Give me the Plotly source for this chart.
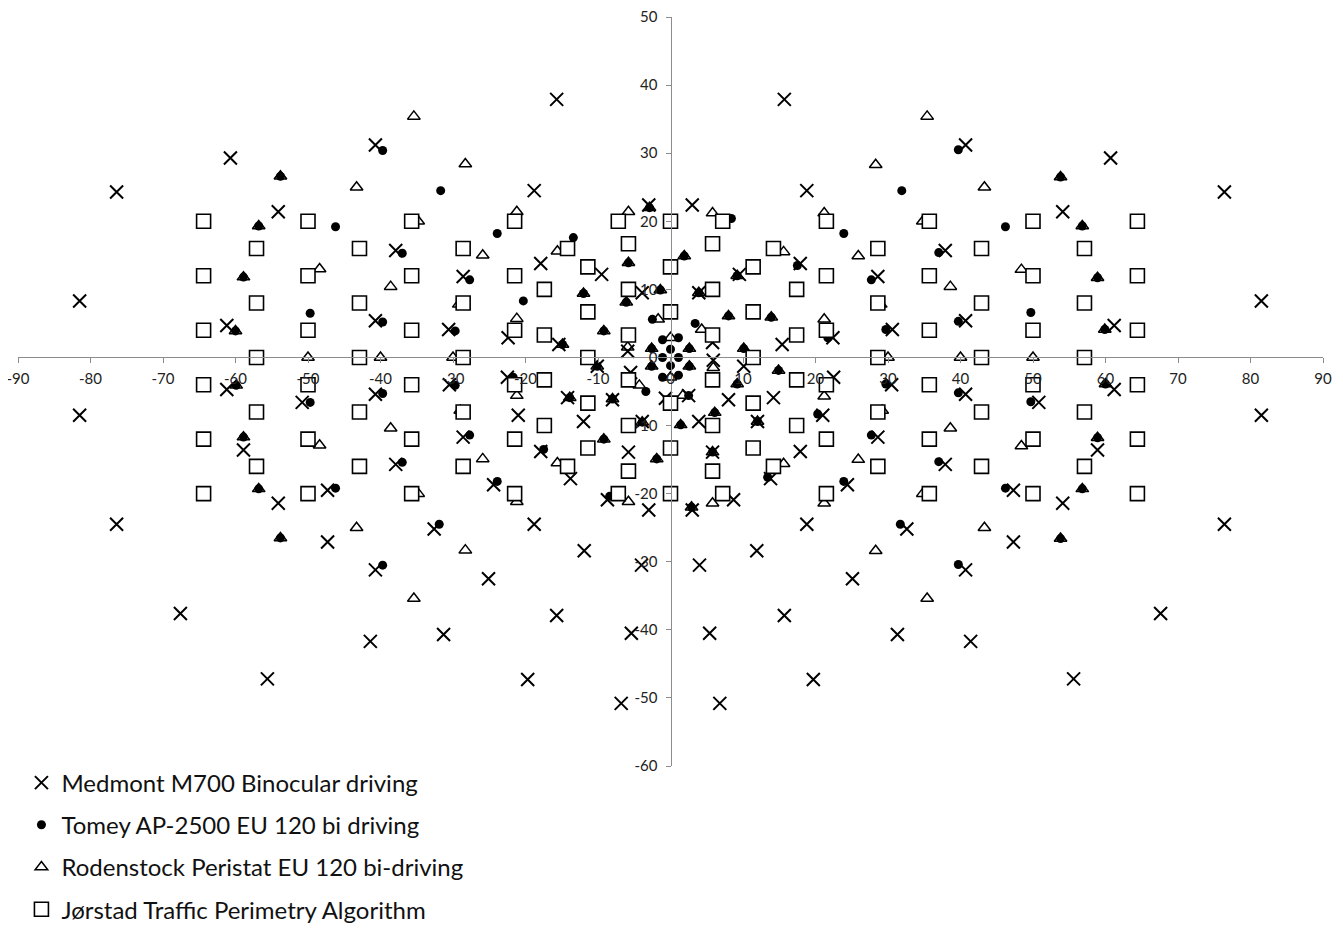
import plotly.graph_objects as go

# ---------------- Axis ticks ----------------
x_tick_vals = [-90, -80, -70, -60, -50, -40, -30, -20, -10, 0, 10, 20, 30, 40, 50, 60, 70, 80, 90]
x_tick_text = ["-90", "-80", "-70", "-60", "-50", "-40", "-30", "-20", "-10", "0", "10", "20", "30", "40", "50", "60", "70", "80", "90"]
y_tick_vals = [50, 40, 30, 20, 10, 0, -10, -20, -30, -40, -50, -60]
y_tick_text = ["50", "40", "30", "20", "10", "0", "-10", "-20", "-30", "-40", "-50", "-60"]

# ---------------- Medmont M700 Binocular driving ----------------
medmont_x_right = [15.7, 18.8, 3.0, 17.9, 9.5, 28.6, 3.9, 5.8, 15.4, 22.4, 5.9, 10.1, 8.0, 14.2, 3.9, 12.0, 22.5, 21.0, 17.9, 28.6,
                   13.8, 24.4, 8.7, 3.0, 18.8, 11.9, 4.0, 25.1, 15.7, 5.4, 19.7, 6.8, 40.7, 60.7, 76.4, 54.1, 37.9, 81.5, 61.2, 40.7,
                   30.6, 30.5, 40.7, 50.8, 37.9, 47.3, 54.1, 58.9, 32.6, 47.3, 40.7, 31.3, 41.4, 55.6, 61.2, 81.5, 76.4, 67.6, 5.8, 2.5]
medmont_y_right = [37.9, 24.5, 22.4, 13.8, 12.2, 11.9, 9.5, 2.2, 1.9, 2.9, -0.4, -1.3, -6.2, -5.9, -9.4, -9.4, -2.9, -8.5, -13.8, -11.7,
                   -17.8, -18.7, -20.9, -22.4, -24.5, -28.4, -30.5, -32.5, -37.9, -40.5, -47.3, -50.8, 31.2, 29.3, 24.3, 21.4, 15.7, 8.3, 4.7, 5.4,
                   4.1, -4.0, -5.4, -6.6, -15.7, -19.5, -21.4, -13.6, -25.2, -27.1, -31.2, -40.7, -41.7, -47.2, -4.7, -8.5, -24.5, -37.6, -13.9, -5.6]
medmont_x_left = [-15.7, -18.8, -3.0, -17.9, -9.5, -28.6, -3.9, -5.9, -15.4, -22.4, -5.5, -10.1, -8.0, -14.2, -3.9, -12.0, -22.5, -21.0, -17.9, -28.6,
                  -13.8, -24.4, -8.7, -3.0, -18.8, -11.9, -4.0, -25.1, -15.7, -5.4, -19.7, -6.8, -40.7, -60.7, -76.4, -54.1, -37.9, -81.5, -61.2, -40.7,
                  -30.6, -30.5, -40.7, -50.8, -37.9, -47.3, -54.1, -58.9, -32.6, -47.3, -40.7, -31.3, -41.4, -55.6, -61.2, -81.5, -76.4, -67.6, -5.8, -0.7]
medmont_y_left = [37.9, 24.5, 22.4, 13.8, 12.2, 11.9, 9.5, 0.9, 1.9, 2.9, -2.2, -1.3, -6.2, -5.9, -9.4, -9.4, -2.9, -8.5, -13.8, -11.7,
                  -17.8, -18.7, -20.9, -22.4, -24.5, -28.4, -30.5, -32.5, -37.9, -40.5, -47.3, -50.8, 31.2, 29.3, 24.3, 21.4, 15.7, 8.3, 4.7, 5.4,
                  4.1, -4.0, -5.4, -6.6, -15.7, -19.5, -21.4, -13.6, -25.2, -27.1, -31.2, -40.7, -41.7, -47.2, -4.7, -8.5, -24.5, -37.6, -13.9, -6.0]

# ---------------- Tomey AP-2500 EU 120 bi driving ----------------
tomey_x_right = [8.4, 1.9, 3.9, 9.2, 8.0, 13.9, 3.4, 17.5, 23.9, 27.7, 10.1, 2.6, 39.7, 31.9, 46.2, 53.8, 56.8, 37.0, 58.9, 39.7,
                 49.7, 29.7, 59.9, 1.1, 1.1, 21.7,
                 29.7, 39.7, 49.7, 60.0, 58.9, 37.0, 46.2, 56.8, 31.7, 53.8, 39.7, 2.9, 5.8, 12.0, 13.4, 23.9, 20.3, 27.7, 9.2, 6.1,
                 1.4, 14.9, 2.5, 2.6, 1.1]
tomey_y_right = [20.4, 14.9, 9.5, 12.0, 6.1, 5.9, 5.0, 13.5, 18.2, 11.4, 1.3, 1.3, 30.5, 24.5, 19.2, 26.5, 19.3, 15.4, 11.7, 5.3,
                 6.6, 4.1, 4.1, 2.9, 0.0, 2.9,
                 -3.9, -5.2, -6.5, -3.9, -11.8, -15.3, -19.2, -19.3, -24.5, -26.6, -30.4, -22.0, -13.9, -9.4, -17.6, -18.2, -8.3, -11.4, -3.9, -8.1,
                 -9.9, -1.9, -5.6, -1.3, -2.6]
tomey_x_left = [-8.4, -1.9, -3.9, -9.2, -8.0, -13.9, -3.4, -17.5, -23.9, -27.7, -10.1, -2.6, -39.7, -31.9, -46.2, -53.8, -56.8, -37.0, -58.9, -39.7,
                -49.7, -29.7, -59.9, -1.1, -1.1, -21.7,
                -29.7, -39.7, -49.7, -60.0, -58.9, -37.0, -46.2, -56.8, -31.7, -53.8, -39.7, -2.9, -5.8, -12.0, -13.4, -23.9, -20.3, -27.7, -9.2, -6.1,
                -1.4, -14.9, -2.5, -2.6, -1.1]
tomey_y_left = [-20.4, -14.9, -9.5, -12.0, -6.1, -5.9, -5.0, -13.5, -18.2, -11.4, -1.3, -1.3, -30.5, -24.5, -19.2, -26.5, -19.3, -15.4, -11.7, -5.3,
                -6.6, -4.1, -4.1, -2.9, 0.0, -2.9,
                3.9, 5.2, 6.5, 3.9, 11.8, 15.3, 19.2, 19.3, 24.5, 26.6, 30.4, 22.0, 13.9, 9.4, 17.6, 18.2, 8.3, 11.4, 3.9, 8.1,
                9.9, 1.9, 5.6, 1.3, 2.6]
tomey_x_center = [0.0, 0.0]
tomey_y_center = [1.2, -1.2]

# ---------------- Rodenstock Peristat EU 120 bi-driving ----------------
rodenstock_x_right = [5.8, 28.3, 21.2, 15.6, 25.9, 29.0, 21.2, 4.3, 35.4, 43.3, 34.8, 48.4, 38.6, 30.0, 40.0, 50.0, 1.9, 3.9, 9.2, 8.0,
                      13.9, 10.1, 2.6, 53.8, 56.8, 58.9, 59.9,
                      29.2, 34.8, 38.6, 48.4, 43.3, 35.4, 21.2, 5.9, 15.6, 21.2, 5.8, 25.9, 28.3, 1.7, 60.0, 58.9, 56.8, 53.8, 9.2, 6.1,
                      1.4, 14.9, 5.8, 12.0, 2.6, 2.9]
rodenstock_y_right = [21.2, 28.3, 21.2, 15.5, 14.9, 7.8, 5.6, 4.1, 35.4, 25.0, 20.0, 12.9, 10.4, 0.0, 0.0, 0.0, 14.9, 9.5, 12.0, 6.1,
                      5.9, 1.3, 1.3, 26.5, 19.3, 11.7, 4.1,
                      -7.8, -20.0, -10.4, -13.0, -25.0, -35.4, -5.7, -1.5, -15.6, -21.4, -21.4, -15.0, -28.4, -5.6, -3.9, -11.8, -19.3, -26.6, -3.9, -8.1,
                      -9.9, -1.9, -13.9, -9.4, -1.3, -22.0]
rodenstock_x_left = [-5.8, -28.3, -21.2, -15.6, -25.9, -29.0, -21.2, -4.3, -35.4, -43.3, -34.8, -48.4, -38.6, -30.0, -40.0, -50.0, -1.9, -3.9, -9.2, -8.0,
                     -13.9, -10.1, -2.6, -53.8, -56.8, -58.9, -59.9,
                     -29.2, -34.8, -38.6, -48.4, -43.3, -35.4, -21.2, -5.9, -15.6, -21.2, -5.8, -25.9, -28.3, -1.7, -60.0, -58.9, -56.8, -53.8, -9.2, -6.1,
                     -1.4, -14.9, -5.8, -12.0, -2.6, -2.9]
rodenstock_y_left = [-21.2, -28.3, -21.2, -15.5, -14.9, -7.8, -5.6, -4.1, -35.4, -25.0, -20.0, -12.9, -10.4, 0.0, 0.0, 0.0, -14.9, -9.5, -12.0, -6.1,
                     -5.9, -1.3, -1.3, -26.5, -19.3, -11.7, -4.1,
                     7.8, 20.0, 10.4, 13.0, 25.0, 35.4, 5.7, 1.5, 15.6, 21.4, 21.4, 15.0, 28.4, 5.6, 3.9, 11.8, 19.3, 26.6, 3.9, 8.1,
                     9.9, 1.9, 13.9, 9.4, 1.3, 22.0]
rodenstock_x_center = [0.0, 0.0]
rodenstock_y_center = [2.9, -2.9]

# ---------------- Jørstad Traffic Perimetry Algorithm ----------------
jorstad_x_center = [0.0, 0.0, 0.0, 0.0, 0.0, 0.0]
jorstad_y_center = [6.7, 13.3, 20.0, -6.7, -13.3, -20.0]
jorstad_x_right = [5.8, 5.8, 5.8, 5.8, 5.8, 5.8, 7.2, 7.2, 11.4, 11.4, 11.4, 11.4, 11.4, 14.2, 14.2, 17.4, 17.4, 17.4, 17.4,
                   21.5, 21.5, 21.5, 21.5, 21.5, 21.5, 28.6, 28.6, 28.6, 28.6, 28.6, 35.7, 35.7, 35.7, 35.7, 35.7, 35.7,
                   42.9, 42.9, 42.9, 42.9, 42.9, 50.0, 50.0, 50.0, 50.0, 50.0, 50.0, 57.1, 57.1, 57.1, 57.1, 57.1,
                   64.4, 64.4, 64.4, 64.4, 64.4, 64.4]
jorstad_y_right = [3.3, 10.0, 16.7, -3.3, -10.0, -16.7, 20.0, -20.0, 0.0, 6.7, 13.3, -6.7, -13.3, 16.0, -16.0, 3.3, 10.0, -3.3, -10.0,
                   4.0, 12.0, 20.0, -4.0, -12.0, -20.0, 0.0, 8.0, 16.0, -8.0, -16.0, 4.0, 12.0, 20.0, -4.0, -12.0, -20.0,
                   0.0, 8.0, 16.0, -8.0, -16.0, 4.0, 12.0, 20.0, -4.0, -12.0, -20.0, 0.0, 8.0, 16.0, -8.0, -16.0,
                   4.0, 12.0, 20.0, -4.0, -12.0, -20.0]
jorstad_x_left = [-5.8, -5.8, -5.8, -5.8, -5.8, -5.8, -7.2, -7.2, -11.4, -11.4, -11.4, -11.4, -11.4, -14.2, -14.2, -17.4, -17.4, -17.4, -17.4,
                  -21.5, -21.5, -21.5, -21.5, -21.5, -21.5, -28.6, -28.6, -28.6, -28.6, -28.6, -35.7, -35.7, -35.7, -35.7, -35.7, -35.7,
                  -42.9, -42.9, -42.9, -42.9, -42.9, -50.0, -50.0, -50.0, -50.0, -50.0, -50.0, -57.1, -57.1, -57.1, -57.1, -57.1,
                  -64.4, -64.4, -64.4, -64.4, -64.4, -64.4]
jorstad_y_left = jorstad_y_right[:]

medmont_x = medmont_x_right + medmont_x_left
medmont_y = medmont_y_right + medmont_y_left
tomey_x = tomey_x_right + tomey_x_left + tomey_x_center
tomey_y = tomey_y_right + tomey_y_left + tomey_y_center
rodenstock_x = rodenstock_x_right + rodenstock_x_left + rodenstock_x_center
rodenstock_y = rodenstock_y_right + rodenstock_y_left + rodenstock_y_center
jorstad_x = jorstad_x_center + jorstad_x_right + jorstad_x_left
jorstad_y = jorstad_y_center + jorstad_y_right + jorstad_y_left

FONT = "Lato"

fig = go.Figure()
fig.add_trace(go.Scatter(
    x=medmont_x, y=medmont_y, mode="markers", name="Medmont M700 Binocular driving", legendgroup="a",
    marker=dict(symbol="x-thin", size=13, color="black", line=dict(width=2, color="black"))))
fig.add_trace(go.Scatter(
    x=tomey_x, y=tomey_y, mode="markers", name="Tomey AP-2500 EU 120 bi driving", legendgroup="b",
    marker=dict(symbol="circle", size=9, color="black", line=dict(width=0))))
fig.add_trace(go.Scatter(
    x=rodenstock_x, y=rodenstock_y, mode="markers", name="Rodenstock Peristat EU 120 bi-driving", legendgroup="c",
    marker=dict(symbol="triangle-up-open", size=11, color="black", line=dict(width=1.5, color="black"))))
fig.add_trace(go.Scatter(
    x=jorstad_x, y=jorstad_y, mode="markers", name="Jørstad Traffic Perimetry Algorithm", legendgroup="d",
    marker=dict(symbol="square", size=14, color="white", line=dict(width=1.6, color="black"))))

axis_common = dict(showgrid=False, zeroline=False, showline=True, linecolor="#8c8c8c", linewidth=1,
                   ticks="outside", ticklen=5, tickcolor="#8c8c8c", tickwidth=1,
                   tickfont=dict(family=FONT, size=15, color="#222222"),
                   ticklabeloverflow="allow", automargin=False)

fig.update_layout(
    width=1343, height=929,
    margin=dict(l=10, r=28, t=9, b=171, autoexpand=False),
    paper_bgcolor="white", plot_bgcolor="white",
    xaxis=dict(range=[-90, 90], anchor="free", position=60 / 110, ticklabelstandoff=3,
               tickmode="array", tickvals=x_tick_vals, ticktext=x_tick_text, **axis_common),
    yaxis=dict(range=[-60, 50], anchor="free", position=0.5, ticklabelstandoff=5,
               tickmode="array", tickvals=y_tick_vals, ticktext=y_tick_text, **axis_common),
    legend=dict(xref="container", yref="container", x=0.010, y=0.190, xanchor="left", yanchor="top", orientation="v",
                font=dict(family=FONT, size=24, color="#111111"), tracegroupgap=8,
                bgcolor="rgba(0,0,0,0)"),
    showlegend=True,
)

fig.write_html("out.html")
